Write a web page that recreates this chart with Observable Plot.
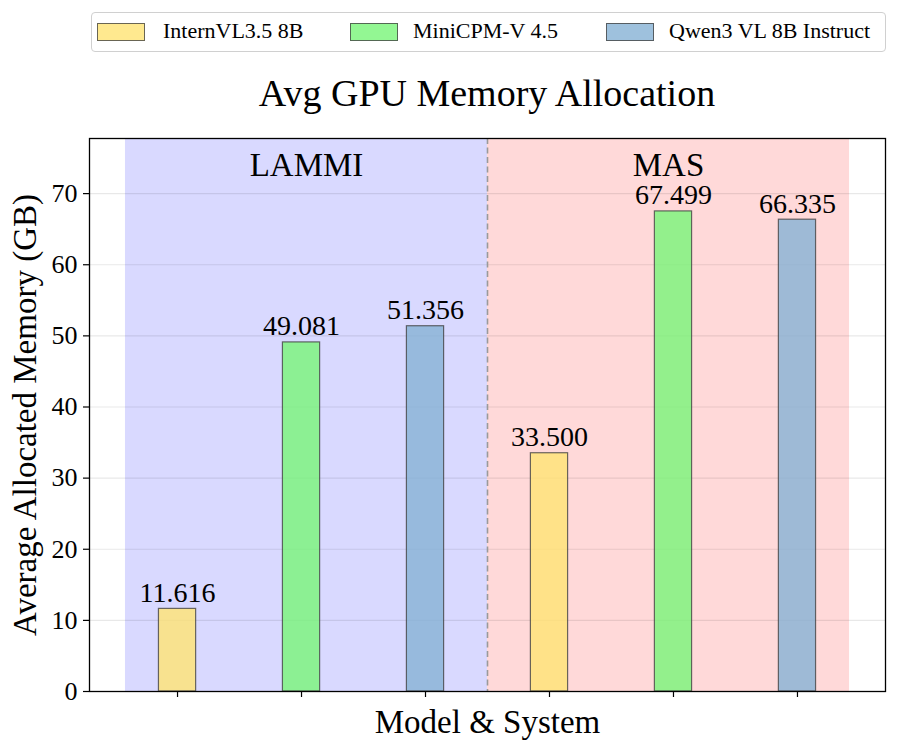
<!DOCTYPE html>
<html>
<head>
<meta charset="utf-8">
<script src="https://cdn.jsdelivr.net/npm/d3@7"></script>
<script src="https://cdn.jsdelivr.net/npm/@observablehq/plot@0.6"></script>
<style>
  html, body { margin: 0; padding: 0; background: white; }
  body { width: 897px; height: 752px; overflow: hidden; font-family: "Liberation Serif", "Times New Roman", serif; }
  #header { position: relative; width: 897px; height: 120px; }
  #legend { position: absolute; left: 91px; top: 12px; width: 795px; height: 40px; box-sizing: border-box;
            border: 1px solid #d0d0d0; border-radius: 4px; background: white; }
  .patch { position: absolute; top: 10px; width: 46px; height: 16px; border: 1px solid rgba(68,68,68,0.8); }
  .ltext { position: absolute; top: 6px; font-size: 22px; line-height: 24px; color: #000; white-space: nowrap; }
  #title { position: absolute; left: 89px; width: 796px; top: 74px; text-align: center; font-size: 38px; line-height: 38px; color: #000; white-space: nowrap; }
  #chart svg { display: block; }
</style>
</head>
<body>
<div id="header">
  <div id="legend"></div>
  <div id="title">Avg GPU Memory Allocation</div>
</div>
<div id="chart"></div>
<script>
// ---- data ----
const modelNames = ["InternVL3.5 8B", "MiniCPM-V 4.5", "Qwen3 VL 8B Instruct"];
const modelColors = ["#FFE373", "#78F578", "#86B1D4"];
const systemNames = ["LAMMI", "MAS"];
const systemSpanStart = [-0.42, 2.5];
const systemSpanEnd = [2.5, 5.42];
const systemFill = ["blue", "red"];
const barSystem = ["LAMMI", "LAMMI", "LAMMI", "MAS", "MAS", "MAS"];
const barModel = ["InternVL3.5 8B", "MiniCPM-V 4.5", "Qwen3 VL 8B Instruct",
                  "InternVL3.5 8B", "MiniCPM-V 4.5", "Qwen3 VL 8B Instruct"];
const barMemory = [11.616, 49.081, 51.356, 33.500, 67.499, 66.335];
const yTicks = [0, 10, 20, 30, 40, 50, 60, 70];

const bars = barMemory.map((v, i) => ({i, system: barSystem[i], model: barModel[i], value: v}));
const spans = systemNames.map((s, k) => ({name: s, x1: systemSpanStart[k], x2: systemSpanEnd[k], fill: systemFill[k]}));

// ---- legend (HTML) ----
const legend = document.getElementById("legend");
const patchLeft = [5, 258, 514];
const textLeft = [71, 321, 577];
modelNames.forEach((m, k) => {
  const p = document.createElement("div");
  p.className = "patch";
  p.style.left = patchLeft[k] + "px";
  const c = d3.color(modelColors[k]); c.opacity = 0.8;
  p.style.background = c.formatRgb();
  legend.appendChild(p);
  const t = document.createElement("div");
  t.className = "ltext";
  t.style.left = textLeft[k] + "px";
  t.textContent = m;
  legend.appendChild(t);
});

const barHalf = 0.15;
const font = '"Liberation Serif", "Times New Roman", serif';

const chart = Plot.plot({
  width: 897,
  height: 632,
  marginLeft: 89,
  marginRight: 12,
  marginTop: 18,
  marginBottom: 61,
  style: {fontFamily: font, fontSize: "26px", color: "black", background: "white", overflow: "visible"},
  x: {type: "linear", domain: [-0.71, 5.71], axis: null},
  y: {domain: [0, 77.75], axis: null},
  color: {domain: modelNames, range: modelColors},
  marks: [
    Plot.rect(spans, {x1: "x1", x2: "x2", y1: 0, y2: 77.75, fill: "fill", fillOpacity: 0.15}),
    Plot.gridY(yTicks, {stroke: "#000", strokeOpacity: 0.09, strokeWidth: 1.2}),
    Plot.ruleX([2.5], {stroke: "#9a9a9a", strokeWidth: 1.6, strokeDasharray: "6,3.5"}),
    Plot.rect(bars, {
      x1: d => d.i - barHalf, x2: d => d.i + barHalf, y1: 0, y2: "value",
      fill: "model", fillOpacity: 0.8, stroke: "#444", strokeOpacity: 0.8, strokeWidth: 1.2
    }),
    Plot.text(bars, {
      x: "i", y: "value", text: d => d3.format(".3f")(d.value),
      lineAnchor: "bottom", dy: -7, fontSize: 28, fill: "black"
    }),
    Plot.text(spans, {
      x: d => (d.x1 + d.x2) / 2, frameAnchor: "top", text: "name",
      lineAnchor: "bottom", dy: 37, fontSize: 33, fill: "black"
    }),
    Plot.frame({stroke: "black", strokeWidth: 1.3}),
    Plot.axisY(yTicks, {tickSize: 6, tickPadding: 6, fontSize: 26, label: null, strokeWidth: 1.2}),
    Plot.axisX(d3.range(6), {tickSize: 6, tickFormat: () => "", label: null, strokeWidth: 1.2}),
    Plot.text(["Model & System"], {frameAnchor: "bottom", lineAnchor: "bottom", dy: 41, fontSize: 33, fill: "black"}),
    Plot.text(["Average Allocated Memory (GB)"], {frameAnchor: "left", textAnchor: "middle", lineAnchor: "bottom", rotate: -90, dx: -54, fontSize: 33, fill: "black"})
  ]
});
document.getElementById("chart").appendChild(chart);
</script>
</body>
</html>
